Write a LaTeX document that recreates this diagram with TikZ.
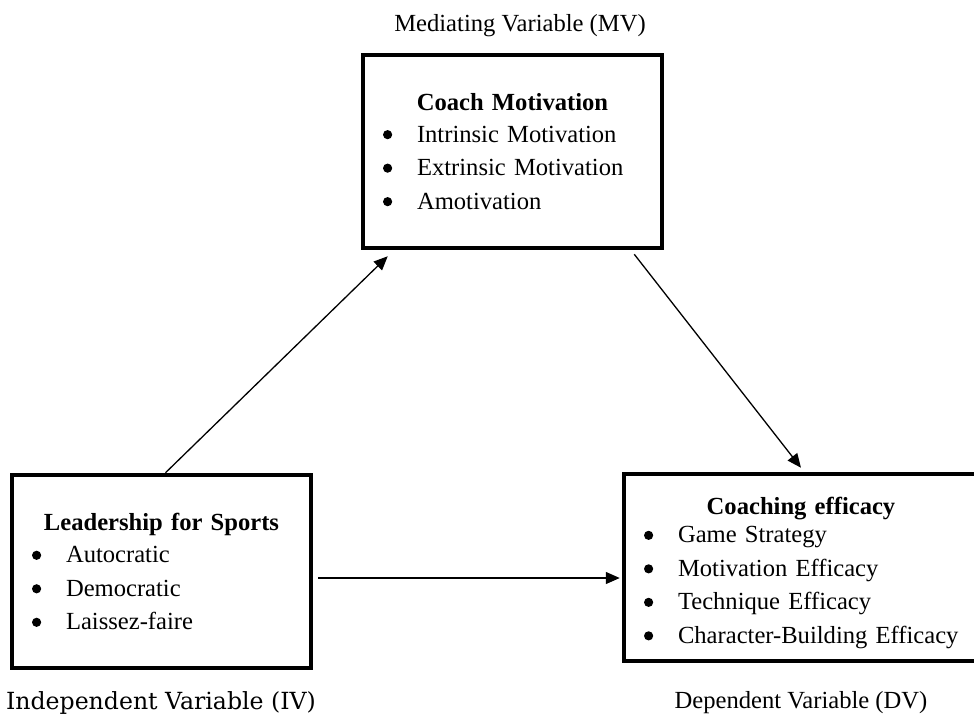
\documentclass[tikz,border=0pt]{standalone}
\usepackage{fontspec}
\setmainfont{Liberation Serif}
\newfontfamily\slabfont{DejaVu Serif}
\usetikzlibrary{arrows.meta,positioning,calc}

\newcommand{\dotmark}{\tikz[baseline=0pt]\fill (0pt,7.5pt) circle (4.6pt);}
\newcommand{\itm}[1]{\mbox{\makebox[34pt][l]{\dotmark}#1}}
\newcommand{\ttl}[1]{\hspace*{0pt plus 1filll}\textbf{#1}\hspace*{0pt plus 1filll}\null}

\tikzset{
  varbox/.style={draw,line width=4.5pt,inner xsep=20pt,inner ysep=0pt,align=left,minimum height=193pt},
  arr/.style={-{Triangle[length=14pt,width=12pt]},line width=1.3pt},
  lbl/.style={anchor=base,inner sep=0pt}
}

\begin{document}
\begin{tikzpicture}[x=1pt,y=-1pt,font=\fontsize{24.6}{33.5}\selectfont]
\useasboundingbox (0,0) rectangle (974,715);
% variable boxes
\node[varbox,text width=259pt] (mv) at (512.5,151.5) {\ttl{Coach Motivation}\\[-2pt]
  \itm{Intrinsic Motivation}\\ \itm{Extrinsic Motivation}\\ \itm{Amotivation}};
\node[varbox,text width=259pt] (iv) at (161.5,571.5) {\ttl{Leadership for Sports}\\[-1pt]
  \itm{Autocratic}\\ \itm{Democratic}\\ \itm{Laissez-faire}};
\node[varbox,text width=314pt,minimum height=187pt] (dv) at (801,567.5) {\rule{0pt}{28pt}\ttl{Coaching efficacy}\\[-5pt]
  \itm{Game Strategy}\\ \itm{Motivation Efficacy}\\ \itm{Technique Efficacy}\\ \itm{Character-Building Efficacy}};
% labels
\node[lbl] (mvlbl) at (520,31) {Mediating Variable (MV)};
\node[lbl] (ivlbl) at (161,709) {\slabfont\fontsize{23.6}{23.6}\selectfont Independent Variable (IV)};
\node[lbl] (dvlbl) at (801,708) {Dependent Variable (DV)};
% paths
\draw[arr] ([xshift=4pt]iv.north) -- ([xshift=27pt,yshift=-6pt]mv.south west);
\draw[arr] ([xshift=-30pt,yshift=-4pt]mv.south east) -- ([yshift=4pt]dv.north);
\draw[arr,shorten <=5pt] ([yshift=-6.5pt]iv.east) -- ([yshift=-6.5pt,xshift=-2pt]iv.east -| dv.west);
\end{tikzpicture}
\end{document}
